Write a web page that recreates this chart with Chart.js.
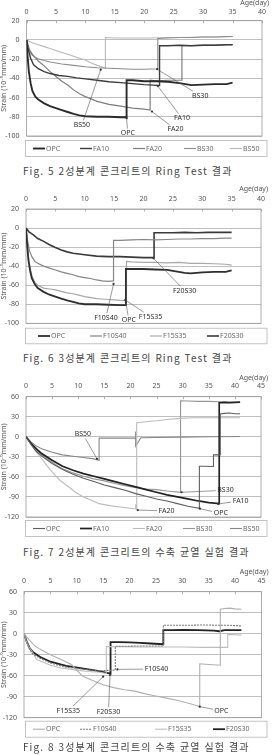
<!DOCTYPE html>
<html lang="ko">
<head>
<meta charset="UTF-8">
<title>Ring Test / 수축 균열 실험 결과</title>
<script src="https://cdn.jsdelivr.net/npm/chart.js@4.4.1/dist/chart.umd.min.js"></script>
<style>
  body { margin: 0; background: #fff; width: 272px; height: 755px; position: relative; overflow: hidden; }
  canvas { position: absolute; left: 0; }
  .cap {
    position: absolute; left: 23px; white-space: nowrap;
    font-family: "Noto Sans CJK KR", sans-serif; font-size: 10px; line-height: 12px;
    color: #444; letter-spacing: 1.1px;
  }
</style>
</head>
<body>
<canvas id="fig5" width="272" height="158" style="top:0px"></canvas>
<div class="cap" style="top:165px">Fig. 5 2성분계 콘크리트의 Ring Test 결과</div>
<canvas id="fig6" width="272" height="162" style="top:184px"></canvas>
<div class="cap" style="top:352px">Fig. 6 3성분계 콘크리트의 Ring Test 결과</div>
<canvas id="fig7" width="272" height="168" style="top:372px"></canvas>
<div class="cap" style="top:546px">Fig. 7 2성분계 콘크리트의 수축 균열 실험 결과</div>
<canvas id="fig8" width="272" height="174" style="top:566px"></canvas>
<div class="cap" style="top:741px">Fig. 8 3성분계 콘크리트의 수축 균열 실험 결과</div>

<script>
// ---- Fig. 5 : 2성분계 Ring Test ----
const fig5OpcDay = [0, 0.2, 0.4, 0.7, 1, 1.5, 2, 3, 4, 5, 6, 7, 8, 9, 10, 12, 14, 16, 17, 17, 18, 20, 22, 24, 26, 27, 28, 30, 32, 34, 35];
const fig5OpcStrain = [0, -18, -33, -45, -53, -59, -62, -66, -69, -71, -73, -75, -77, -78.5, -79.5, -80, -80, -80.5, -80.5, -42, -42, -43, -43, -43.5, -45, -46, -47, -46.5, -46, -46, -44.5];
const fig5Fa10Day = [0, 0.3, 0.7, 1.2, 2, 3, 4, 5.5, 7, 8.5, 10, 12, 14, 16, 18, 20, 21.5, 22.6, 22.6, 24, 26, 28, 30, 32, 34, 35];
const fig5Fa10Strain = [0, -10, -19, -26, -30, -33, -35, -37, -38, -39.5, -40.5, -42, -43.5, -44.5, -45.5, -46.5, -47, -47.5, -6, -6, -5.5, -6, -5.5, -5.5, -5, -5];
const fig5Fa20Day = [0, 0.5, 1, 2, 3, 4, 5, 6, 7, 8, 9, 10, 12, 14, 16, 18, 20, 21, 21, 22, 24, 26.4, 26.4, 28, 30, 32, 34, 35];
const fig5Fa20Strain = [0, -10, -15, -22, -27, -33, -38, -43, -47, -52, -56, -59, -64, -67, -69, -71, -72, -73, -42, -42.5, -42, -42, -6, -6, -5.5, -5.5, -5, -5];
const fig5Bs30Day = [0, 0.3, 0.6, 1, 1.5, 2, 3, 4, 6, 8, 10, 12, 14, 16, 18, 20, 22.3, 22.3, 24, 26, 28, 30, 32, 34, 35];
const fig5Bs30Strain = [0, -8, -13, -16, -18, -19.5, -21.5, -23, -25, -26.5, -28, -29, -29.5, -30, -30.5, -30.5, -30, 1.5, 2, 2.5, 2.5, 3, 3, 3.5, 3.5];
const fig5Bs50Day = [0, 1, 2, 3, 4, 5, 6, 7, 8, 9, 10, 11, 12, 13, 13.4, 13.4, 15, 18, 21, 24, 27, 30, 33, 35];
const fig5Bs50Strain = [0, -3, -5, -7, -9, -11, -13, -15, -17, -19, -21, -24, -26.5, -28.5, -29.5, 2.5, 2, 2, 2, 2.5, 2.5, 3, 3, 3.5];

// ---- Fig. 6 : 3성분계 Ring Test ----
const fig6OpcDay = [0, 0.2, 0.4, 0.7, 1, 1.5, 2, 3, 4, 5, 6, 7, 8, 9, 10, 12, 14, 16, 17, 17, 18, 20, 22, 24, 26, 27, 28, 30, 32, 34, 35];
const fig6OpcStrain = [0, -18, -33, -45, -53, -59, -63, -67, -70, -72, -74, -76, -77.5, -79, -80, -80, -80.5, -81, -81, -43, -43, -43, -43.5, -44, -46, -47, -47.5, -46.5, -46, -46, -44.5];
const fig6F10s40Day = [0, 0.3, 0.6, 1, 1.5, 2, 3, 4, 5, 6, 7, 8, 9, 10, 11, 12, 13, 14, 14.9, 14.9, 16, 18, 20, 22, 24, 26, 28, 30, 32, 34, 35];
const fig6F10s40Strain = [0, -14, -24, -30, -35, -37, -40, -42, -44, -46, -47.5, -49, -51, -52, -53, -54.5, -55.5, -56, -55.5, -13, -13, -12.5, -12, -12.5, -12, -11.5, -11.5, -11, -11, -10.5, -10.5];
const fig6F15s35Day = [0, 0.2, 0.5, 1, 1.5, 2, 3, 4, 5, 6, 7, 8, 9, 10, 11, 12, 13, 14, 15, 16, 17.1, 17.1, 18, 20, 22, 24, 26, 28, 30, 32, 34, 35];
const fig6F15s35Strain = [0, -15, -35, -50, -57, -60, -63, -64, -65, -66.5, -68, -69, -70.5, -72, -73, -74, -74.5, -75, -75.5, -76, -76.5, -35, -35.5, -36, -36, -36.5, -36, -37, -37, -37.5, -38, -39];
const fig6F20s30Day = [0, 0.5, 1.2, 2, 3, 4, 5, 6, 7, 8, 10, 12, 14, 16, 18, 20, 21.8, 21.8, 23, 25, 27, 29, 31, 33, 35];
const fig6F20s30Strain = [0, -4, -7, -11, -14, -17.5, -20.5, -23, -25, -26.5, -28, -29.5, -30, -30, -30.5, -31, -31, -5, -5, -5, -4.5, -5, -4.5, -4.5, -4.5];

// ---- Fig. 7 : 2성분계 수축 균열 ----
const fig7OpcDay = [0, 1, 2, 3, 5, 7, 9, 11, 13, 15, 17, 19, 21, 23, 25, 27, 29, 31, 33.2, 33.2, 34, 35.9, 35.9, 36.5, 37.2, 37.2, 38, 39, 40, 41];
const fig7OpcStrain = [0, -12, -22, -29, -40, -49, -56, -62, -67, -72, -76, -80, -85, -89, -93, -96, -100, -104, -107, -44, -44, -44.5, -27, -27, -27, 34, 35, 35.5, 34.5, 34.5];
const fig7Fa10Day = [0, 1, 2, 3, 5, 7, 9, 11, 13, 15, 17, 19, 21, 23, 25, 27, 29, 31, 33, 35, 37, 37, 38, 39, 40, 41];
const fig7Fa10Strain = [0, -10, -18, -25, -35, -44, -50, -55, -59, -63, -67, -71, -75, -79, -83, -87, -90, -93, -96, -98.5, -100, 51, 51.5, 51, 51.5, 52];
const fig7Fa20Day = [0, 1, 1.5, 2.5, 3.5, 4.5, 5.5, 6.5, 8, 9.5, 11, 12.5, 14, 16, 18, 20, 21, 21, 21.2, 21.2, 23, 25, 27, 29.5, 32, 35, 38, 41];
const fig7Fa20Strain = [0, -10, -18, -28, -38, -48, -57, -65, -74, -83, -90, -95, -100, -103, -105, -107, -108, -101, -109, 21, 22.5, 24, 26, 27.5, 28.5, 28.5, 28.5, 28.5];
const fig7Bs30Day = [0, 1, 2, 3, 5, 7, 9, 11, 13, 15, 17, 19, 21, 23, 25, 27, 29.6, 29.6, 31, 33, 35, 37, 39, 41];
const fig7Bs30Strain = [0, -11, -20, -27, -38, -48, -54, -59, -63, -66, -70, -73, -76, -78, -79, -81, -83, 54, 53.5, 53, 53, 52.5, 51.5, 51.5];
const fig7Bs50Day = [0, 1, 2, 3, 5, 7, 9, 11, 13, 14, 14, 16, 18, 20, 21, 21, 21, 22, 25, 30, 35, 41];
const fig7Bs50Strain = [0, -8, -14, -18, -23, -27, -29, -31, -33, -35, -2, -2, -2, -2, -2, 8, -14, -1.5, -1, -0.5, 0, 0.5];

// ---- Fig. 8 : 3성분계 수축 균열 ----
const fig8OpcDay = [0, 1, 2, 3, 5, 7, 9, 10, 11, 13, 15, 17, 19, 21, 23, 25, 27, 29, 31, 33.3, 33.3, 35, 37.2, 37.2, 38, 39, 40, 41.2];
const fig8OpcStrain = [0, -9, -17, -22, -30, -37, -44, -52, -60, -67, -73, -77, -80, -82, -86, -89, -92, -95, -99, -104, -43, -44, -45, 35, 36, 36.5, 35.5, 35];
const fig8F10s40Day = [0, 0.8, 1.5, 3, 5, 8, 11, 14, 17.3, 17.3, 19, 22, 24, 26.4, 26.4, 28, 31, 34, 37, 39, 41.2];
const fig8F10s40Strain = [0, -18, -28, -35, -42, -48, -50.5, -53, -52, -18, -18, -17.5, -17.5, -17.5, 12, 12, 12, 12.5, 12, 12, 11];
const fig8F15s35Day = [0, 0.5, 1, 1.5, 2.4, 4, 5, 7, 10, 12, 14.4, 15.6, 15.6, 18, 22, 26, 30, 34, 38.6, 38.6, 40, 41.2];
const fig8F15s35Strain = [0, -12, -20, -25, -37, -42, -45, -49, -52, -54, -55, -57, -18.5, -18.5, -19, -19, -19, -19.5, -19.5, -1, -1.5, -2];
const fig8F20s30Day = [0, 0.5, 1.1, 1.8, 3, 5, 8, 11, 14, 16.4, 16.4, 18, 20, 22, 24, 26.4, 26.4, 28, 30, 33, 36, 37, 38, 40, 41.2];
const fig8F20s30Strain = [0, -11, -21, -27, -33, -40, -46, -49.5, -53, -57, -12, -12, -12.5, -13, -14, -15, 5, 5, 5.5, 5, 4.5, 3.5, 5, 5, 5];

// callout labels: [text, text day, text strain, target day, target strain]
const fig5Notes = [
  ['BS50', 9.4, -88.4, 12.6, -31],
  ['OPC', 17.2, -97, 17, -81.5],
  ['FA20', 25.3, -93, 21.3, -74.5],
  ['FA10', 26.4, -81.5, 22.3, -48],
  ['BS30', 29.5, -58, 22.2, -30.5]
];
const fig6Notes = [
  ['F20S30', 27, -65.7, 21.7, -31.8],
  ['F10S40', 13.6, -94, 14.9, -58.7],
  ['OPC', 17.5, -96.5, 17, -78],
  ['F15S35', 21.2, -93, 16.9, -75.5]
];
const fig7Notes = [
  ['BS50', 10.9, 4, 13.6, -33],
  ['BS30', 38.2, -80, 29.8, -83],
  ['FA10', 41.1, -95.7, 36.8, -100.5],
  ['OPC', 37.3, -114.6, 33.3, -107.5],
  ['FA20', 26.9, -111, 21.4, -109.6]
];
const fig8Notes = [
  ['F10S40', 25.1, -50.5, 17.7, -51],
  ['F15S35', 8.4, -110, 15, -61.4],
  ['F20S30', 16, -111.4, 16.3, -59],
  ['OPC', 37.4, -110, 33.3, -104.3]
];

const FONT = "'Noto Sans', 'DejaVu Sans', sans-serif";

function pts(days, vals) {
  return days.map((d, i) => ({x: d, y: vals[i]}));
}

function decoPlugin(cfg, notes) {
  return {
    id: 'deco',
    beforeDatasetsDraw(chart) {
      const {ctx, chartArea: a, scales: {x}} = chart;
      ctx.save();
      ctx.strokeStyle = '#9a9a9a';
      ctx.lineWidth = 0.8;
      ctx.strokeRect(a.left, a.top, a.right - a.left, a.bottom - a.top);
      // small tick marks pointing into the plot
      x.ticks.forEach(t => {
        const px = Math.round(x.getPixelForValue(t.value)) + 0.5;
        ctx.beginPath();
        ctx.moveTo(px, a.top);
        ctx.lineTo(px, a.top + 2.5);
        ctx.stroke();
      });
      ctx.restore();
    },
    afterDraw(chart) {
      const {ctx, chartArea: a, scales: {x, y}} = chart;
      ctx.save();
      // axis caption
      ctx.fillStyle = '#555';
      ctx.font = '7px ' + FONT;
      ctx.textAlign = 'right';
      ctx.textBaseline = 'middle';
      ctx.fillText('Age(day)', a.right + 7, cfg.ageY - cfg.top);

      // callouts
      ctx.font = '7px ' + FONT;
      ctx.textAlign = 'center';
      notes.forEach(([txt, tx, ty, px, py]) => {
        const cx = x.getPixelForValue(tx), cy = y.getPixelForValue(ty);
        const ex = x.getPixelForValue(px), ey = y.getPixelForValue(py);
        const hw = ctx.measureText(txt).width / 2 + 1.5, hh = 4.5;
        const dx = ex - cx, dy = ey - cy;
        const t = Math.min(dx ? hw / Math.abs(dx) : Infinity, dy ? hh / Math.abs(dy) : Infinity);
        ctx.strokeStyle = '#555';
        ctx.lineWidth = 0.6;
        ctx.beginPath();
        ctx.moveTo(cx + dx * t, cy + dy * t);
        ctx.lineTo(ex, ey);
        ctx.stroke();
        ctx.fillStyle = '#333';
        ctx.beginPath();
        ctx.arc(ex, ey, 1.1, 0, Math.PI * 2);
        ctx.fill();
        ctx.fillStyle = '#2e2e2e';
        ctx.fillText(txt, cx, cy);
      });

      // legend box
      const lt = cfg.legendTop - cfg.top, lb = cfg.legendBottom - cfg.top;
      ctx.strokeStyle = '#b5b5b5';
      ctx.lineWidth = 0.8;
      ctx.strokeRect(25.5, lt + 0.5, 241.5, lb - lt);
      const yc = (lt + lb) / 2 + 0.5;
      ctx.font = '7px ' + FONT;
      ctx.textAlign = 'left';
      chart.data.datasets.forEach((ds, i) => {
        const x0 = cfg.legendX[i];
        ctx.strokeStyle = ds.borderColor;
        ctx.lineWidth = ds.borderWidth;
        ctx.setLineDash(ds.borderDash || []);
        ctx.beginPath();
        ctx.moveTo(x0, yc);
        ctx.lineTo(x0 + 12, yc);
        ctx.stroke();
        ctx.setLineDash([]);
        ctx.fillStyle = '#6a6a6a';
        ctx.fillText(ds.label, x0 + 13, yc);
      });
      ctx.restore();
    }
  };
}

function makeChart(id, cfg, series, notes) {
  const canvas = document.getElementById(id);
  const h = canvas.height;
  new Chart(canvas.getContext('2d'), {
    type: 'line',
    data: {
      datasets: series.map(s => ({
        label: s.label,
        data: pts(s.day, s.strain),
        borderColor: s.color,
        borderWidth: s.width,
        borderDash: s.dash || [],
        pointRadius: 0,
        tension: 0,
        fill: false
      }))
    },
    options: {
      responsive: false,
      animation: false,
      devicePixelRatio: 1,
      layout: {padding: {left: 0, top: 0, right: 272 - cfg.right, bottom: h - (cfg.plotBottom - cfg.top)}},
      plugins: {legend: {display: false}, tooltip: {enabled: false}},
      scales: {
        x: {
          type: 'linear', position: 'top', min: 0, max: cfg.xMax,
          ticks: {stepSize: 5, color: '#555', font: {size: 7, family: FONT}, padding: cfg.plotTop - cfg.tickY - 4.2, maxRotation: 0},
          grid: {display: false, drawTicks: false},
          border: {display: false},
          afterFit(s) { s.height = cfg.plotTop - cfg.top; }
        },
        y: {
          min: cfg.yMin, max: cfg.yMax,
          ticks: {stepSize: cfg.yStep, color: '#555', font: {size: 7, family: FONT}, padding: 7},
          grid: {color: '#a3a3a3', lineWidth: 0.7, drawTicks: false},
          border: {display: false},
          title: {display: true, text: 'Strain (10⁻⁶mm/mm)', color: '#555', font: {size: 7, family: FONT}, padding: 0},
          afterFit(s) { s.width = cfg.left; }
        }
      }
    },
    plugins: [decoPlugin(cfg, notes)]
  });
}

makeChart('fig5',
  {top: 0, ageY: 3, tickY: 12, plotTop: 20.7, plotBottom: 136, left: 26.5, right: 262,
   legendTop: 140, legendBottom: 156, legendX: [33, 80, 133, 184, 230],
   xMax: 40, yMin: -100, yMax: 20, yStep: 20},
  [
    {label: 'OPC', day: fig5OpcDay, strain: fig5OpcStrain, color: '#2a2a2a', width: 1.9},
    {label: 'FA10', day: fig5Fa10Day, strain: fig5Fa10Strain, color: '#3c3c3c', width: 1.4},
    {label: 'FA20', day: fig5Fa20Day, strain: fig5Fa20Strain, color: '#7e7e7e', width: 1.2},
    {label: 'BS30', day: fig5Bs30Day, strain: fig5Bs30Strain, color: '#8c8c8c', width: 1.1},
    {label: 'BS50', day: fig5Bs50Day, strain: fig5Bs50Strain, color: '#b8b8b8', width: 1.1}
  ], fig5Notes);

makeChart('fig6',
  {top: 184, ageY: 188.5, tickY: 199, plotTop: 209, plotBottom: 323.3, left: 26, right: 261,
   legendTop: 327.7, legendBottom: 343.3, legendX: [38, 90, 150, 207],
   xMax: 40, yMin: -100, yMax: 20, yStep: 20},
  [
    {label: 'OPC', day: fig6OpcDay, strain: fig6OpcStrain, color: '#2e2e2e', width: 1.8},
    {label: 'F10S40', day: fig6F10s40Day, strain: fig6F10s40Strain, color: '#858585', width: 1.2},
    {label: 'F15S35', day: fig6F15s35Day, strain: fig6F15s35Strain, color: '#a8a8a8', width: 1.2},
    {label: 'F20S30', day: fig6F20s30Day, strain: fig6F20s30Strain, color: '#3a3a3a', width: 1.6}
  ], fig6Notes);

makeChart('fig7',
  {top: 372, ageY: 377.7, tickY: 386, plotTop: 396.7, plotBottom: 517, left: 26, right: 261,
   legendTop: 520, legendBottom: 536, legendX: [33, 80, 133, 183, 230],
   xMax: 45, yMin: -120, yMax: 60, yStep: 30},
  [
    {label: 'OPC', day: fig7OpcDay, strain: fig7OpcStrain, color: '#5e5e5e', width: 1.1},
    {label: 'FA10', day: fig7Fa10Day, strain: fig7Fa10Strain, color: '#222', width: 1.7},
    {label: 'FA20', day: fig7Fa20Day, strain: fig7Fa20Strain, color: '#bcbcbc', width: 1.1},
    {label: 'BS30', day: fig7Bs30Day, strain: fig7Bs30Strain, color: '#969696', width: 1.1},
    {label: 'BS50', day: fig7Bs50Day, strain: fig7Bs50Strain, color: '#878787', width: 1.1}
  ], fig7Notes);

makeChart('fig8',
  {top: 566, ageY: 571.7, tickY: 581, plotTop: 591.7, plotBottom: 717.7, left: 24, right: 262,
   legendTop: 720.7, legendBottom: 736.7, legendX: [33, 80, 155, 213],
   xMax: 45, yMin: -120, yMax: 60, yStep: 30},
  [
    {label: 'OPC', day: fig8OpcDay, strain: fig8OpcStrain, color: '#b0b0b0', width: 1.1},
    {label: 'F10S40', day: fig8F10s40Day, strain: fig8F10s40Strain, color: '#7a7a7a', width: 1.1, dash: [2, 1]},
    {label: 'F15S35', day: fig8F15s35Day, strain: fig8F15s35Strain, color: '#bdbdbd', width: 1.1},
    {label: 'F20S30', day: fig8F20s30Day, strain: fig8F20s30Strain, color: '#222', width: 1.8}
  ], fig8Notes);
</script>
</body>
</html>
